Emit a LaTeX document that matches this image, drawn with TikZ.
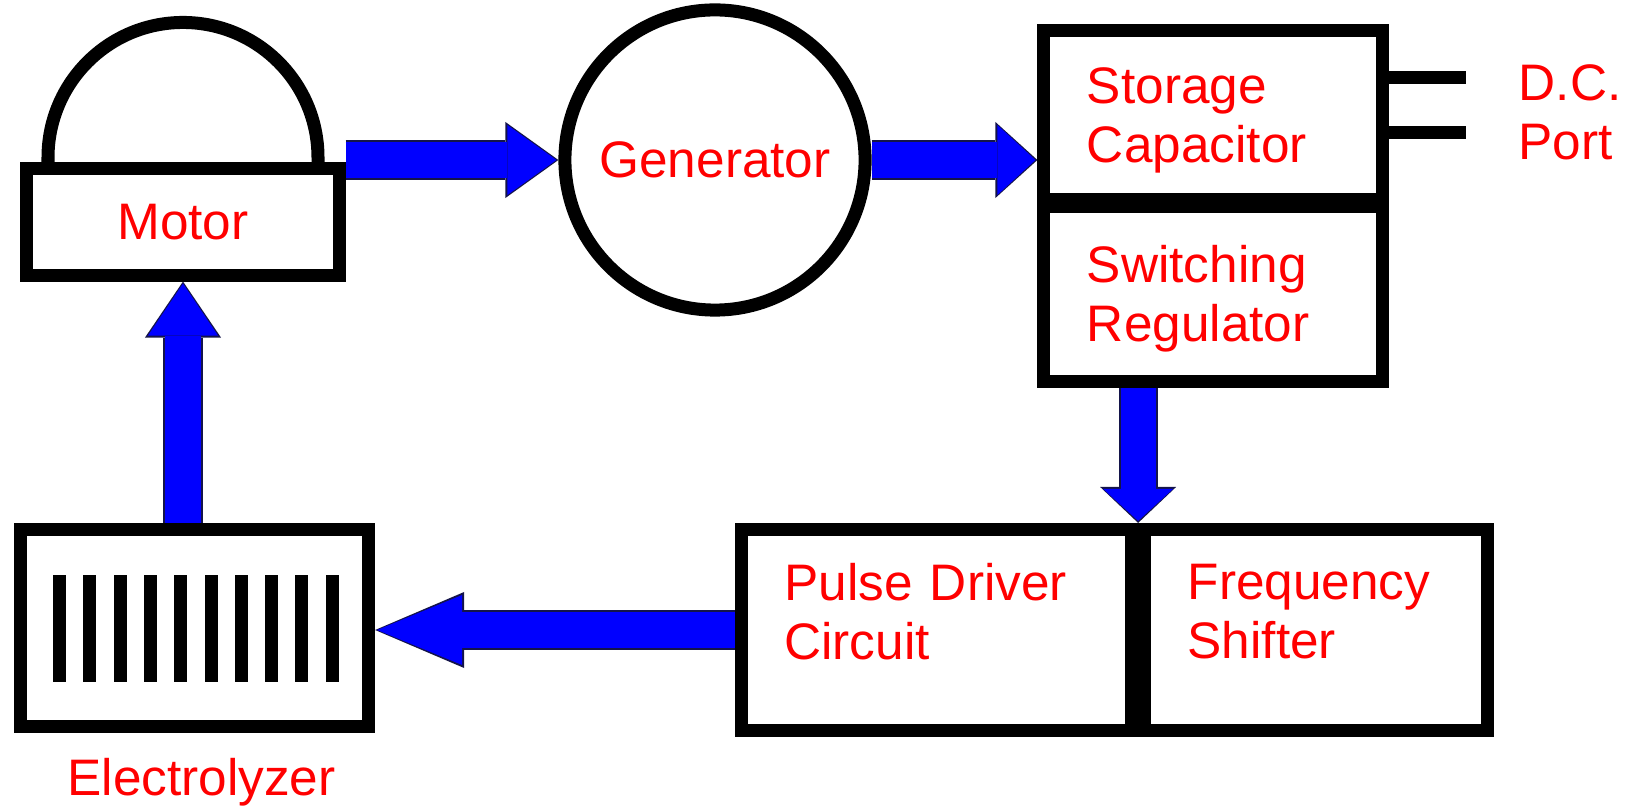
\documentclass[tikz,border=0pt]{standalone}
\usepackage{fontspec}
\setmainfont{Liberation Sans}
\usetikzlibrary{arrows.meta,positioning,calc}
\definecolor{ink}{HTML}{FF0000}
\definecolor{flow}{HTML}{0000FF}
\definecolor{rim}{HTML}{14144A}
\newcommand{\twoline}[2]{\vbox{\hbox{#1}\hbox{#2}}}

\begin{document}
\begin{tikzpicture}[x=0.01cm,y=0.01cm,
  lbl/.style={text=ink,font=\fontsize{14.6}{16.8}\selectfont,inner sep=0pt},
  box/.style={lbl,draw,line width=0.13cm,fill=white,text depth=0pt},
  panel/.style={box,text width=#1,align=left,inner xsep=0.43cm},
  feed/.style 2 args={draw=flow,line width=0.35cm,
    -{Triangle[length=#2,width=0.70cm,line width=0pt]},shorten >=0.02cm,
    preaction={draw=rim,line width=0.39cm,shorten >=0pt,
      -{Triangle[length=#1,width=0.76cm,line width=0pt]}}},
  lead/.style={line width=0.13cm},
  node distance=0.25cm]
 \useasboundingbox (0,0) rectangle (1634,806);
 % top row
 \node[box,minimum width=3.12cm,minimum height=1.06cm] (motor) at (183,584) {Motor};
 \draw[lead] ($(motor.north)+(-135,0)$) -- ++(0,5)
   arc[start angle=180,end angle=0,radius=135] -- ++(0,-5);
 \node[box,circle,minimum size=3.0cm] (gen) at (715,646) {Generator};
 \node[panel=2.52cm,minimum height=1.68cm] (store) at (1213,691)
   {\twoline{Storage}{Capacitor}};
 \node[panel=2.52cm,minimum height=1.75cm,below=-0.06cm of store] (switch)
   {\twoline{Switching}{Regulator}};
 % output port
 \coordinate (dc1) at (1466,728);
 \coordinate (dc2) at (1466,673);
 \draw[lead] (store.east |- dc1) -- (dc1);
 \draw[lead] (store.east |- dc2) -- (dc2);
 \node[lbl,anchor=base west] (dc) at (1518,646) {\twoline{D.C.}{Port}};
 % bottom row
 \node[panel=3.04cm,minimum height=2.01cm,text depth=0.38cm] (pulse) at (936.5,176)
   {\twoline{Pulse Driver}{Circuit}};
 \node[panel=2.57cm,minimum height=2.01cm,text depth=0.38cm,right=0cm of pulse] (shift)
   {\twoline{Frequency}{Shifter}};
 \node[box,minimum width=3.48cm,minimum height=1.97cm] (elec) at (194.5,178) {};
 \foreach \i in {0,...,9}
   \fill ($(elec.center)+({-135+30.3*\i},0)$) ++(-6.5,-53.5) rectangle ++(13,107);
 \node[lbl,below=of elec,xshift=0.07cm] (elec-name) {Electrolyzer};
 % power flow
 \draw[feed={0.53cm}{0.49cm}] (motor.east |- gen.west) -- (gen.west);
 \draw[feed={0.42cm}{0.38cm}] (gen.east) -- (gen.east -| store.west);
 \draw[feed={0.36cm}{0.32cm}] (pulse.north east |- switch.south) -- (pulse.north east);
 \draw[feed={0.89cm}{0.85cm}] (pulse.west) -- (pulse.west -| elec.east);
 \draw[feed={0.56cm}{0.52cm}] (elec.north -| motor.south) -- (motor.south);
\end{tikzpicture}
\end{document}
